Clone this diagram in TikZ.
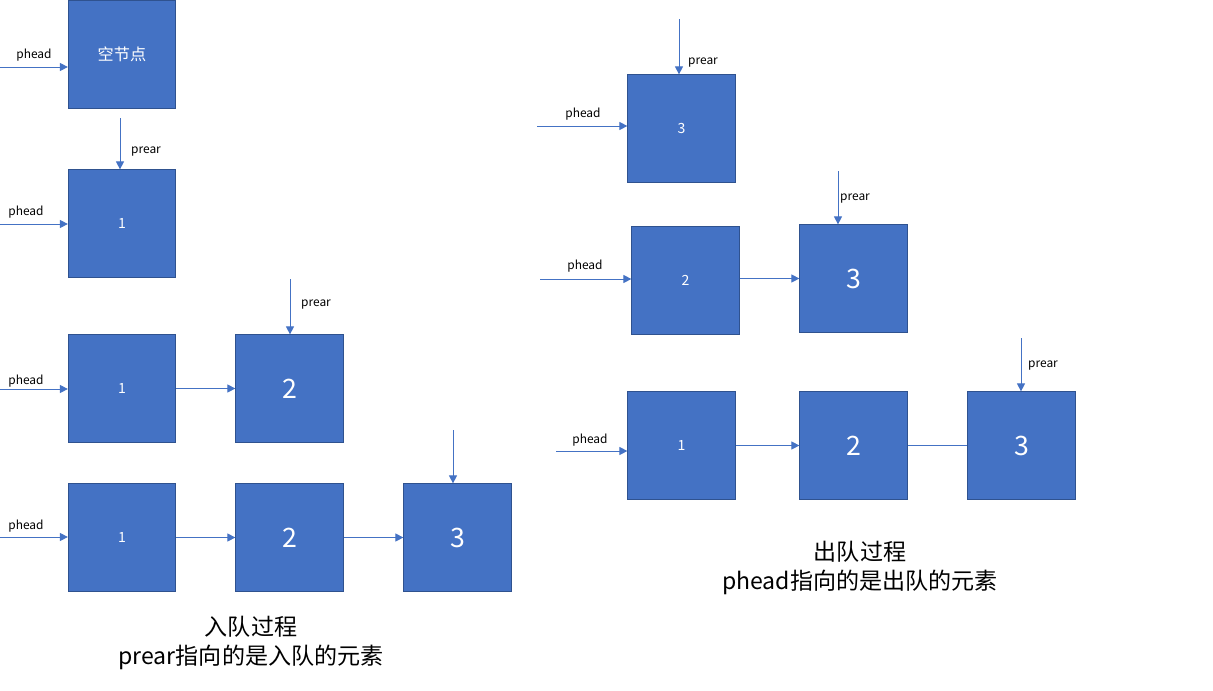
\documentclass[tikz,border=0pt]{standalone}
\usepackage{fontspec}
\setmainfont{Noto Sans CJK SC}
\usetikzlibrary{arrows.meta}
\definecolor{qfill}{HTML}{4472C4}
\definecolor{qline}{HTML}{2F528F}
\tikzset{
  qbox/.style={rectangle,draw=qline,fill=qfill,line width=0.7pt,minimum width=2.68cm,minimum height=2.68cm,inner sep=0pt,text=white},
  smallnum/.style={qbox,font=\fontsize{10}{12}\selectfont},
  bignum/.style={qbox,font=\fontsize{19}{22}\selectfont},
  ptrlbl/.style={font=\fontsize{8.5}{10}\selectfont,inner sep=1pt},
  ptr/.style={-{Triangle[length=2mm,width=2mm]},line width=0.7pt,qfill},
  link/.style={line width=0.7pt,qfill},
  capnode/.style={font=\fontsize{16.4}{20.6}\selectfont,align=center},
}

\begin{document}
\begin{tikzpicture}[x=0.025cm,y=-0.025cm]
  \useasboundingbox (0,0) rectangle (1213,691);
  % enqueue side
  \node[smallnum,font=\fontsize{11.5}{13}\selectfont] (eA) at (122,54.5) {空节点};
  \node[smallnum] (eB) at (122,223.5) {1};
  \node[smallnum] (eC1) at (122,388.5) {1};
  \node[bignum] (eC2) at (289.5,388.5) {2};
  \node[smallnum] (eD1) at (122,537.5) {1};
  \node[bignum] (eD2) at (289.5,537.5) {2};
  \node[bignum] (eD3) at (457.5,537.5) {3};
  \coordinate (hA) at (0,67);
  \coordinate (hB) at (0,224);
  \coordinate (hC) at (0,389);
  \coordinate (hD) at (0,537);
  \coordinate (rB) at (120,118);
  \coordinate (rC) at (290,279);
  \coordinate (rD) at (453,430);
  \draw[ptr] (hA) -- (hA -| eA.west);
  \draw[ptr] (hB) -- (hB -| eB.west);
  \draw[ptr] (hC) -- (hC -| eC1.west);
  \draw[ptr] (hD) -- (hD -| eD1.west);
  \draw[ptr] (rB) -- (rB |- eB.north);
  \draw[ptr] (rC) -- (rC |- eC2.north);
  \draw[ptr] (rD) -- (rD |- eD3.north);
  \draw[ptr] (eC1) -- (eC2);
  \draw[ptr] (eD1) -- (eD2);
  \draw[ptr] (eD2) -- (eD3);
  \node[ptrlbl] (lhA) at (34,55) {phead};
  \node[ptrlbl] (lrB) at (146,152) {prear};
  \node[ptrlbl] (lhB) at (26,212) {phead};
  \node[ptrlbl] (lhC) at (26,381) {phead};
  \node[ptrlbl] (lrC) at (316,305) {prear};
  \node[ptrlbl] (lhD) at (26,526) {phead};
  \node[capnode] (capE) at (251,642.5) {入队过程\\prear指向的是入队的元素};
  % dequeue side
  \node[smallnum] (dA) at (681.5,128.5) {3};
  \node[smallnum] (dB2) at (685.5,280.5) {2};
  \node[bignum] (dB3) at (853.5,278.5) {3};
  \node[smallnum] (dC1) at (681.5,445.5) {1};
  \node[bignum] (dC2) at (853.5,445.5) {2};
  \node[bignum] (dC3) at (1021.5,445.5) {3};
  \coordinate (hdA) at (537,126);
  \coordinate (hdB) at (540,279);
  \coordinate (hdC) at (556,451);
  \coordinate (rdA) at (679,19);
  \coordinate (rdB) at (838,171);
  \coordinate (rdC) at (1021,338);
  \draw[ptr] (hdA) -- (hdA -| dA.west);
  \draw[ptr] (hdB) -- (hdB -| dB2.west);
  \draw[ptr] (hdC) -- (hdC -| dC1.west);
  \draw[ptr] (rdA) -- (rdA |- dA.north);
  \draw[ptr] (rdB) -- (rdB |- dB3.north);
  \draw[ptr] (rdC) -- (rdC |- dC3.north);
  \draw[ptr] (dB2.east |- dB3) -- (dB3);
  \draw[ptr] (dC1) -- (dC2);
  \draw[link] (dC2) -- (dC3);
  \node[ptrlbl] (lhdA) at (583,114) {phead};
  \node[ptrlbl] (lrdA) at (703,63) {prear};
  \node[ptrlbl] (lhdB) at (585,266) {phead};
  \node[ptrlbl] (lrdB) at (855,199) {prear};
  \node[ptrlbl] (lhdC) at (590,440) {phead};
  \node[ptrlbl] (lrdC) at (1043,366) {prear};
  \node[capnode] (capD) at (860,567.5) {出队过程\\phead指向的是出队的元素};
\end{tikzpicture}
\end{document}
